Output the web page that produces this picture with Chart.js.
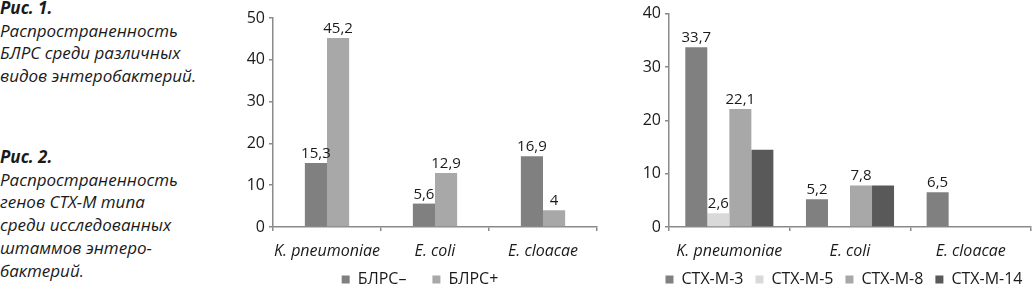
<!DOCTYPE html>
<html><head><meta charset="utf-8">
<script src="https://cdn.jsdelivr.net/npm/chart.js@4/dist/chart.umd.min.js"></script>
<style>
html,body{margin:0;padding:0;background:#fff;}
body{width:1032px;height:288px;overflow:hidden;position:relative;font-family:'Open Sans',sans-serif;color:#1a1a1a;}
.cap{position:absolute;left:0;font-style:italic;font-size:17px;line-height:22.7px;white-space:nowrap;}
.cap b{font-weight:700;}
canvas{position:absolute;top:0;}
</style></head><body>
<div class="cap" style="top:-3px"><b>Рис. 1.</b><br>Распространенность<br>БЛРС среди различных<br>видов энтеробактерий.</div>
<div class="cap" style="top:146px"><b>Рис. 2.</b><br>Распространенность<br>генов СТХ-М типа<br>среди исследованных<br>штаммов энтеро-<br>бактерий.</div>
<canvas id="c1" width="375" height="330" style="left:230px"></canvas>
<canvas id="c2" width="422" height="330" style="left:610px"></canvas>
<script>
// ---- data ----
const categories = ['K. pneumoniae', 'E. coli', 'E. cloacae'];

// Fig. 1
const blrsMinus = [15.3, 5.6, 16.9];
const blrsPlus = [45.2, 12.9, 4];
const blrsMinusLabels = ['15,3', '5,6', '16,9'];
const blrsPlusLabels = ['45,2', '12,9', '4'];
const fig1Ticks = [0, 10, 20, 30, 40, 50];

// Fig. 2
const ctxM3 = [33.7, 5.2, 6.5];
const ctxM5 = [2.6, 0, 0];
const ctxM8 = [22.1, 7.8, 0];
const ctxM14 = [14.5, 7.8, 0];
const ctxM3Labels = ['33,7', '5,2', '6,5'];
const ctxM5Labels = ['2,6', null, null];
const ctxM8Labels = ['22,1', '7,8', null];
const ctxM14Labels = [null, null, null];
const fig2Ticks = [0, 10, 20, 30, 40];

// ---- styling ----
const TEXT = '#1a1a1a';
const AXIS = '#8a8a8a';
const FONT = "'Open Sans', sans-serif";
const PLOT_BOTTOM = 227;      // y of the zero line in the page
const LEGEND_TEXT_Y = 279.5;  // legend text centre in the page

const valueLabels = {
  id: 'valueLabels',
  afterDatasetsDraw(chart) {
    const ctx = chart.ctx;
    ctx.save();
    ctx.font = '15px ' + FONT;
    ctx.fillStyle = TEXT;
    ctx.textAlign = 'center';
    ctx.textBaseline = 'alphabetic';
    chart.data.datasets.forEach((ds, di) => {
      const meta = chart.getDatasetMeta(di);
      (ds.valueLabels || []).forEach((t, i) => {
        if (t == null) return;
        const el = meta.data[i];
        ctx.fillText(t, el.x, el.y - 5);
      });
    });
    ctx.restore();
  }
};

// moves the legend row to the reference position
const legendPlace = {
  id: 'legendPlace',
  afterLayout(chart, args, opts) {
    const lg = chart.legend;
    if (!lg || !lg.legendHitBoxes || !lg.legendHitBoxes.length) return;
    const p = lg.options.labels.padding;
    const h = lg.legendHitBoxes[0].height;
    const dx = opts.centerX - (lg.left + lg.right) / 2;
    const dy = LEGEND_TEXT_Y - (lg.top + p + h / 2);
    lg.left += dx; lg.right += dx;
    lg.top += dy; lg.bottom += dy;
  }
};

function makeChart(id, datasets, ticks, opts) {
  const maxV = ticks[ticks.length - 1];
  return new Chart(document.getElementById(id), {
    type: 'bar',
    data: { labels: categories, datasets: datasets },
    plugins: [valueLabels, legendPlace],
    options: {
      responsive: false,
      animation: false,
      devicePixelRatio: 1,
      layout: { padding: { top: opts.top, right: opts.right, left: 0, bottom: 0 } },
      datasets: { bar: { categoryPercentage: opts.catPct, barPercentage: 1, borderWidth: 0 } },
      plugins: {
        tooltip: { enabled: false },
        legendPlace: { centerX: opts.legendCenter },
        legend: {
          position: 'bottom',
          align: 'center',
          labels: {
            boxWidth: 8, boxHeight: 8, padding: opts.legendPad,
            color: TEXT, font: { family: FONT, size: 16 }
          }
        }
      },
      scales: {
        x: {
          grid: { display: true, drawOnChartArea: false, drawTicks: true, tickLength: 4, color: AXIS, lineWidth: 1.5, offset: true },
          border: { display: true, color: AXIS, width: 1.5 },
          ticks: { color: TEXT, font: { family: FONT, size: 16, style: 'italic' }, padding: 11, maxRotation: 0, autoSkip: false },
          afterFit: s => {
            const lh = s.chart.legend ? s.chart.legend.height : 0;
            s.height = s.chart.height - lh - PLOT_BOTTOM;
          }
        },
        y: {
          min: 0, max: maxV,
          afterBuildTicks: s => { s.ticks = ticks.map(v => ({ value: v })); },
          grid: { display: true, drawOnChartArea: false, drawTicks: true, tickLength: 4, color: AXIS, lineWidth: 1.5 },
          border: { display: true, color: AXIS, width: 1.5 },
          ticks: { color: TEXT, font: { family: FONT, size: 16 }, padding: 4 },
          afterFit: s => { s.width = opts.yWidth; }
        }
      }
    }
  });
}

makeChart('c1', [
  { label: 'БЛРС–', data: blrsMinus, backgroundColor: '#808080', valueLabels: blrsMinusLabels },
  { label: 'БЛРС+', data: blrsPlus, backgroundColor: '#a8a8a8', valueLabels: blrsPlusLabels }
], fig1Ticks, { top: 18, right: 8, yWidth: 43, catPct: 0.41, legendPad: 26, legendCenter: 190 });

makeChart('c2', [
  { label: 'CTX-M-3', data: ctxM3, backgroundColor: '#808080', valueLabels: ctxM3Labels },
  { label: 'CTX-M-5', data: ctxM5, backgroundColor: '#d9d9d9', valueLabels: ctxM5Labels },
  { label: 'CTX-M-8', data: ctxM8, backgroundColor: '#a8a8a8', valueLabels: ctxM8Labels },
  { label: 'CTX-M-14', data: ctxM14, backgroundColor: '#595959', valueLabels: ctxM14Labels }
], fig2Ticks, { top: 9, right: 1, yWidth: 59, catPct: 0.73, legendPad: 12, legendCenter: 234 });
</script>
</body></html>
